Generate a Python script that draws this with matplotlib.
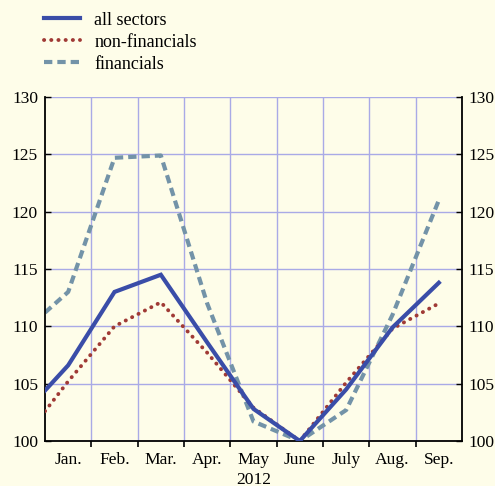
import matplotlib
matplotlib.use("Agg")
import matplotlib.pyplot as plt

months = ["Jan.", "Feb.", "Mar.", "Apr.", "May", "June", "July", "Aug.", "Sep."]
year_label = "2012"
# first value: start of January (end of previous year), then monthly values at month centres
all_sectors = [104.4, 106.6, 113.0, 114.5, 108.6, 102.8, 100.0, 104.5, 109.9, 113.8]
non_financials = [102.6, 105.2, 110.0, 112.1, 107.7, 102.9, 100.0, 105.1, 109.8, 112.0]
financials = [111.2, 113.0, 124.7, 124.9, 112.0, 101.7, 100.0, 102.7, 111.0, 121.0]
y_ticks = [100, 105, 110, 115, 120, 125, 130]

bg = "#FEFDE9"
grid_c = "#A9AAE6"

x = [0.0] + [i + 0.5 for i in range(len(months))]

plt.rcParams["font.family"] = ["Liberation Serif", "DejaVu Serif"]

fig = plt.figure(figsize=(4.95, 4.86), dpi=100, facecolor=bg)
ax = fig.add_axes([45 / 495, 1 - 441 / 486, (462 - 45) / 495, (441 - 97) / 486])
ax.set_facecolor(bg)

l1, = ax.plot(x, all_sectors, color="#3A4DA8", lw=3.0, solid_joinstyle="miter", zorder=4)
l2, = ax.plot(x, non_financials, color="#A03A35", lw=2.8, linestyle=(0, (0.05, 1.8)),
              dash_capstyle="round", zorder=3)
l3, = ax.plot(x, financials, color="#7393A8", lw=3.0, linestyle=(0, (2.0, 1.2)), zorder=2)

ax.set_xlim(0, len(months))
ax.set_ylim(100, 130)
ax.set_yticks(y_ticks)
ax.set_xticks(range(1, len(months)))
ax.set_xticks([i + 0.5 for i in range(len(months))], minor=True)
ax.set_xticklabels([])
ax.set_xticklabels(months, minor=True, fontsize=12.6)
ax.tick_params(axis="x", which="minor", length=0, pad=8)
ax.tick_params(axis="x", which="major", direction="out", length=4, width=1.2, color="black")
ax.tick_params(axis="y", direction="in", length=4, width=1, labelsize=12.5,
               right=True, labelright=True, pad=5)
ax.grid(True, which="major", color=grid_c, lw=1.0, zorder=0)
ax.spines["top"].set_visible(False)
for s in ["left", "right", "bottom"]:
    ax.spines[s].set_linewidth(1.3)
    ax.spines[s].set_color("black")
ax.set_axisbelow(True)

ax.text(4.5, -0.112, year_label, transform=ax.get_xaxis_transform(), ha="center",
        va="center", fontsize=12.6)

fig.legend([l1, l2, l3], ["all sectors", "non-financials", "financials"],
           loc="upper left", bbox_to_anchor=(0.068, 0.998), frameon=False,
           fontsize=13, handlelength=1.95, handletextpad=0.8, labelspacing=0.27,
           borderaxespad=0.2)

fig.savefig("out.png", dpi=100, facecolor=bg)
